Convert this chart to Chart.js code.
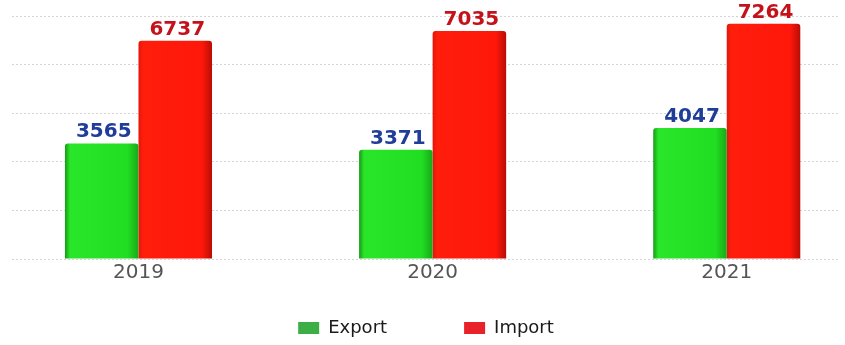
<!DOCTYPE html>
<html>
<head>
<meta charset="utf-8">
<title>Export / Import</title>
<script src="https://cdn.jsdelivr.net/npm/chart.js@4.4.1/dist/chart.umd.min.js"></script>
<style>
  html, body { margin: 0; padding: 0; background: #fff; }
  canvas { display: block; }
</style>
</head>
<body>
<canvas id="trade" width="845" height="345"></canvas>
<script>
// yearly trade figures
const years = ['2019', '2020', '2021'];
const exportValues = [3565, 3371, 4047];
const importValues = [6737, 7035, 7264];

const FONT = '"DejaVu Sans", sans-serif';
const GROUP = 0.5; // share of a year slot used by the two bars
const labelColors = ['#1f3d99', '#c4121a'];
const legendColors = ['#3dae46', '#e8212a'];

// horizontal shading so the bars look a bit rounded
const exportStops = [[0, '#179a17'], [0.07, '#2ae62a'], [0.85, '#22de22'], [1, '#18a818']];
const importStops = [[0, '#e3160a'], [0.06, '#ff1d0c'], [0.86, '#ff180a'], [1, '#b90c05']];

function barFill(stops, side) {
  return (c) => {
    const chart = c.chart;
    const xs = chart.scales.x;
    if (!xs || !chart.chartArea || c.type !== 'data') return stops[1][1];
    const mid = xs.getPixelForValue(c.dataIndex);
    const slot = xs.getPixelForValue(1) - xs.getPixelForValue(0);
    const w = slot * GROUP / 2;
    const x0 = side < 0 ? mid - w : mid;
    const g = chart.ctx.createLinearGradient(x0, 0, x0 + w, 0);
    stops.forEach(([o, col]) => g.addColorStop(o, col));
    return g;
  };
}

// numbers printed above each bar
const valueLabels = {
  id: 'valueLabels',
  afterDatasetsDraw(chart) {
    const ctx = chart.ctx;
    ctx.save();
    ctx.font = 'bold 20px ' + FONT;
    ctx.textAlign = 'center';
    ctx.textBaseline = 'alphabetic';
    chart.data.datasets.forEach((ds, di) => {
      chart.getDatasetMeta(di).data.forEach((bar, i) => {
        ctx.fillStyle = labelColors[di];
        ctx.fillText(String(ds.data[i].y), bar.x + 2, bar.y - 6);
      });
    });
    ctx.restore();
  }
};

new Chart(document.getElementById('trade'), {
  type: 'bar',
  data: {
    datasets: [
      {
        label: 'Export',
        data: exportValues.map((v, i) => ({ x: i, y: v })),
        backgroundColor: barFill(exportStops, -1)
      },
      {
        label: 'Import',
        data: importValues.map((v, i) => ({ x: i, y: v })),
        backgroundColor: barFill(importStops, 1)
      }
    ]
  },
  options: {
    responsive: false,
    animation: false,
    categoryPercentage: GROUP,
    barPercentage: 1,
    borderRadius: { topLeft: 3, topRight: 3 },
    borderSkipped: 'bottom',
    layout: { padding: { top: 16, left: 12, right: 5, bottom: -2 } },
    plugins: {
      tooltip: { enabled: false },
      legend: {
        position: 'bottom',
        labels: {
          boxWidth: 21,
          boxHeight: 12,
          padding: 32,
          color: '#1a1a1a',
          font: { family: FONT, size: 18 },
          generateLabels(chart) {
            const items = Chart.defaults.plugins.legend.labels.generateLabels(chart);
            items.forEach((it, i) => {
              it.fillStyle = legendColors[i];
              it.strokeStyle = legendColors[i];
              it.lineWidth = 0;
              if (i < items.length - 1) it.text += '\u2003\u2003\u2002';
            });
            return items;
          }
        }
      }
    },
    scales: {
      x: {
        type: 'linear',
        offset: false,
        min: -0.43,
        max: 2.385,
        grid: { display: false, drawTicks: false, offset: false },
        border: { display: false },
        afterBuildTicks: (s) => { s.ticks = years.map((_, i) => ({ value: i })); },
        ticks: {
          callback: (v) => years[v],
          color: '#555',
          font: { family: FONT, size: 20 },
          padding: 2,
          maxRotation: 0,
          autoSkip: false
        }
      },
      y: {
        min: 0,
        max: 7500,
        ticks: { display: false, stepSize: 1500 },
        grid: { color: '#d4d4d4', drawTicks: false },
        border: { display: false, dash: [2, 2] }
      }
    }
  },
  plugins: [valueLabels]
});
</script>
</body>
</html>
